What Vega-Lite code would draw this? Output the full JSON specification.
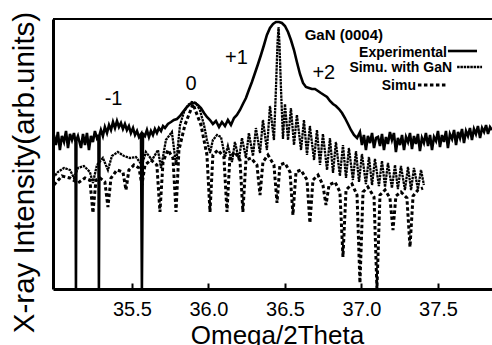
{
 "$schema": "https://vega.github.io/schema/vega-lite/v6.json",
 "width": 439, "height": 270,
 "autosize": {"type": "none"},
 "padding": {"left": 53, "top": 19, "right": 0, "bottom": 56},
 "background": "white",
 "config": {"view": {"stroke": null}, "font": "Liberation Sans"},
 "datasets": {
  "exp": [
   {"x":34.990,"y":154},{"x":35.003,"y":144},{"x":35.016,"y":157},{"x":35.029,"y":139},{"x":35.042,"y":153},{"x":35.056,"y":147},{"x":35.069,"y":158},{"x":35.082,"y":141},{"x":35.095,"y":155},{"x":35.108,"y":149},{"x":35.121,"y":156},{"x":35.131,"y":147},{"x":35.134,"y":0},{"x":35.137,"y":149},{"x":35.147,"y":153},{"x":35.167,"y":141},{"x":35.180,"y":155},{"x":35.193,"y":144},{"x":35.206,"y":156},{"x":35.219,"y":139},{"x":35.232,"y":153},{"x":35.245,"y":147},{"x":35.258,"y":158},{"x":35.271,"y":151},{"x":35.281,"y":154},{"x":35.284,"y":0},{"x":35.288,"y":154},{"x":35.297,"y":159},{"x":35.310,"y":153},{"x":35.323,"y":162},{"x":35.337,"y":156},{"x":35.350,"y":164},{"x":35.363,"y":159},{"x":35.376,"y":167},{"x":35.389,"y":161},{"x":35.402,"y":168},{"x":35.415,"y":162},{"x":35.428,"y":166},{"x":35.441,"y":160},{"x":35.454,"y":165},{"x":35.467,"y":159},{"x":35.480,"y":163},{"x":35.493,"y":156},{"x":35.507,"y":161},{"x":35.520,"y":154},{"x":35.533,"y":158},{"x":35.546,"y":152},{"x":35.559,"y":155},{"x":35.565,"y":0},{"x":35.572,"y":155},{"x":35.585,"y":153},{"x":35.598,"y":159},{"x":35.611,"y":152},{"x":35.624,"y":158},{"x":35.637,"y":154},{"x":35.650,"y":160},{"x":35.663,"y":156},{"x":35.676,"y":161},{"x":35.690,"y":158},{"x":35.703,"y":163},{"x":35.716,"y":161},{"x":35.735,"y":165},{"x":35.755,"y":167},{"x":35.774,"y":169},{"x":35.794,"y":170},{"x":35.814,"y":173},{"x":35.833,"y":177},{"x":35.853,"y":181},{"x":35.873,"y":184},{"x":35.892,"y":186},{"x":35.912,"y":186},{"x":35.931,"y":184},{"x":35.951,"y":181},{"x":35.971,"y":176},{"x":35.990,"y":172},{"x":36.010,"y":169},{"x":36.029,"y":165},{"x":36.049,"y":168},{"x":36.069,"y":162},{"x":36.088,"y":167},{"x":36.108,"y":163},{"x":36.127,"y":169},{"x":36.147,"y":164},{"x":36.167,"y":171},{"x":36.186,"y":174},{"x":36.206,"y":179},{"x":36.225,"y":185},{"x":36.245,"y":191},{"x":36.264,"y":199},{"x":36.284,"y":207},{"x":36.304,"y":216},{"x":36.324,"y":225},{"x":36.343,"y":234},{"x":36.363,"y":244},{"x":36.382,"y":254},{"x":36.402,"y":261},{"x":36.422,"y":265},{"x":36.441,"y":267},{"x":36.461,"y":267},{"x":36.480,"y":266},{"x":36.500,"y":263},{"x":36.520,"y":257},{"x":36.539,"y":249},{"x":36.559,"y":239},{"x":36.578,"y":227},{"x":36.598,"y":215},{"x":36.618,"y":206},{"x":36.637,"y":202},{"x":36.657,"y":201},{"x":36.676,"y":200},{"x":36.696,"y":200},{"x":36.716,"y":198},{"x":36.735,"y":196},{"x":36.755,"y":194},{"x":36.775,"y":192},{"x":36.794,"y":188},{"x":36.814,"y":185},{"x":36.833,"y":183},{"x":36.853,"y":180},{"x":36.873,"y":176},{"x":36.892,"y":171},{"x":36.912,"y":165},{"x":36.931,"y":159},{"x":36.951,"y":154},{"x":36.971,"y":151},{"x":36.990,"y":157},{"x":37.003,"y":144},{"x":37.016,"y":154},{"x":37.029,"y":139},{"x":37.042,"y":153},{"x":37.056,"y":146},{"x":37.069,"y":156},{"x":37.082,"y":141},{"x":37.095,"y":151},{"x":37.108,"y":152},{"x":37.121,"y":143},{"x":37.134,"y":155},{"x":37.147,"y":139},{"x":37.160,"y":152},{"x":37.173,"y":145},{"x":37.186,"y":157},{"x":37.199,"y":149},{"x":37.212,"y":156},{"x":37.225,"y":137},{"x":37.238,"y":151},{"x":37.252,"y":144},{"x":37.265,"y":154},{"x":37.278,"y":139},{"x":37.291,"y":152},{"x":37.304,"y":147},{"x":37.317,"y":156},{"x":37.330,"y":140},{"x":37.343,"y":153},{"x":37.356,"y":145},{"x":37.369,"y":155},{"x":37.382,"y":138},{"x":37.395,"y":151},{"x":37.408,"y":146},{"x":37.421,"y":156},{"x":37.435,"y":143},{"x":37.448,"y":154},{"x":37.461,"y":139},{"x":37.474,"y":152},{"x":37.487,"y":148},{"x":37.500,"y":158},{"x":37.513,"y":142},{"x":37.526,"y":154},{"x":37.539,"y":147},{"x":37.552,"y":158},{"x":37.565,"y":141},{"x":37.578,"y":155},{"x":37.592,"y":150},{"x":37.605,"y":159},{"x":37.618,"y":144},{"x":37.631,"y":157},{"x":37.644,"y":151},{"x":37.657,"y":160},{"x":37.670,"y":146},{"x":37.683,"y":158},{"x":37.696,"y":153},{"x":37.709,"y":161},{"x":37.722,"y":149},{"x":37.735,"y":160},{"x":37.748,"y":155},{"x":37.761,"y":163},{"x":37.775,"y":151},{"x":37.788,"y":161},{"x":37.801,"y":157},{"x":37.814,"y":164},{"x":37.827,"y":155},{"x":37.840,"y":162},{"x":37.853,"y":159},
   {"x":37.565,"y":238,"g":"leg"},{"x":37.755,"y":238,"g":"leg"}
  ],
  "gan": [
   {"x":34.984,"y":111},{"x":35.016,"y":117},{"x":35.056,"y":121},{"x":35.095,"y":119},{"x":35.121,"y":111},{"x":35.147,"y":121},{"x":35.186,"y":123},{"x":35.225,"y":117},{"x":35.245,"y":106},{"x":35.271,"y":124},{"x":35.310,"y":131},{"x":35.343,"y":119},{"x":35.369,"y":133},{"x":35.408,"y":137},{"x":35.448,"y":133},{"x":35.487,"y":131},{"x":35.526,"y":132},{"x":35.565,"y":124},{"x":35.591,"y":137},{"x":35.631,"y":129},{"x":35.670,"y":139},{"x":35.690,"y":121},{"x":35.722,"y":149},{"x":35.761,"y":157},{"x":35.788,"y":124},{"x":35.814,"y":164},{"x":35.840,"y":177},{"x":35.866,"y":184},{"x":35.892,"y":187},{"x":35.918,"y":186},{"x":35.944,"y":179},{"x":35.971,"y":164},{"x":35.990,"y":149},{"x":36.010,"y":136},{"x":36.029,"y":149},{"x":36.056,"y":154},{"x":36.082,"y":152},{"x":36.108,"y":132},{"x":36.127,"y":143},{"x":36.154,"y":127},{"x":36.173,"y":147},{"x":36.199,"y":129},{"x":36.219,"y":151},{"x":36.245,"y":131},{"x":36.264,"y":156},{"x":36.291,"y":133},{"x":36.310,"y":161},{"x":36.337,"y":136},{"x":36.356,"y":169},{"x":36.382,"y":139},{"x":36.402,"y":183},{"x":36.428,"y":149},{"x":36.441,"y":200},{"x":36.451,"y":245},{"x":36.458,"y":262},{"x":36.464,"y":245},{"x":36.474,"y":200},{"x":36.487,"y":150},{"x":36.500,"y":185},{"x":36.520,"y":149},{"x":36.539,"y":181},{"x":36.559,"y":144},{"x":36.578,"y":174},{"x":36.605,"y":139},{"x":36.624,"y":169},{"x":36.644,"y":134},{"x":36.663,"y":163},{"x":36.690,"y":129},{"x":36.709,"y":159},{"x":36.729,"y":124},{"x":36.748,"y":155},{"x":36.775,"y":119},{"x":36.794,"y":151},{"x":36.814,"y":116},{"x":36.833,"y":147},{"x":36.859,"y":113},{"x":36.879,"y":144},{"x":36.899,"y":111},{"x":36.918,"y":141},{"x":36.944,"y":109},{"x":36.964,"y":138},{"x":36.984,"y":107},{"x":37.003,"y":135},{"x":37.029,"y":105},{"x":37.049,"y":132},{"x":37.069,"y":104},{"x":37.088,"y":130},{"x":37.114,"y":103},{"x":37.134,"y":128},{"x":37.154,"y":102},{"x":37.173,"y":126},{"x":37.199,"y":101},{"x":37.219,"y":124},{"x":37.238,"y":100},{"x":37.258,"y":123},{"x":37.284,"y":99},{"x":37.304,"y":122},{"x":37.324,"y":99},{"x":37.343,"y":121},{"x":37.369,"y":100},{"x":37.389,"y":119},{"x":37.408,"y":104},
   {"x":37.625,"y":222,"g":"leg"},{"x":37.788,"y":222,"g":"leg"}
  ],
  "sim": [
   {"x":34.990,"y":104},{"x":35.042,"y":113},{"x":35.095,"y":111},{"x":35.147,"y":106},{"x":35.193,"y":111},{"x":35.225,"y":109},{"x":35.245,"y":76},{"x":35.265,"y":109},{"x":35.291,"y":111},{"x":35.323,"y":107},{"x":35.343,"y":82},{"x":35.363,"y":111},{"x":35.402,"y":119},{"x":35.441,"y":117},{"x":35.461,"y":99},{"x":35.480,"y":119},{"x":35.513,"y":124},{"x":35.546,"y":121},{"x":35.565,"y":104},{"x":35.585,"y":124},{"x":35.624,"y":129},{"x":35.663,"y":124},{"x":35.683,"y":77},{"x":35.703,"y":127},{"x":35.735,"y":139},{"x":35.768,"y":131},{"x":35.788,"y":77},{"x":35.807,"y":139},{"x":35.846,"y":164},{"x":35.899,"y":185},{"x":35.951,"y":164},{"x":35.990,"y":134},{"x":36.010,"y":77},{"x":36.029,"y":134},{"x":36.062,"y":139},{"x":36.101,"y":132},{"x":36.121,"y":77},{"x":36.140,"y":132},{"x":36.173,"y":137},{"x":36.206,"y":129},{"x":36.225,"y":77},{"x":36.245,"y":129},{"x":36.278,"y":131},{"x":36.317,"y":124},{"x":36.337,"y":94},{"x":36.356,"y":127},{"x":36.389,"y":134},{"x":36.428,"y":124},{"x":36.448,"y":86},{"x":36.467,"y":124},{"x":36.500,"y":126},{"x":36.533,"y":117},{"x":36.552,"y":74},{"x":36.572,"y":117},{"x":36.605,"y":119},{"x":36.644,"y":109},{"x":36.663,"y":66},{"x":36.683,"y":109},{"x":36.716,"y":114},{"x":36.748,"y":104},{"x":36.768,"y":84},{"x":36.788,"y":104},{"x":36.827,"y":107},{"x":36.859,"y":97},{"x":36.879,"y":32},{"x":36.899,"y":99},{"x":36.938,"y":105},{"x":36.971,"y":94},{"x":36.990,"y":6},{"x":37.010,"y":97},{"x":37.042,"y":102},{"x":37.082,"y":92},{"x":37.101,"y":0},{"x":37.121,"y":94},{"x":37.154,"y":99},{"x":37.186,"y":91},{"x":37.206,"y":59},{"x":37.225,"y":93},{"x":37.258,"y":97},{"x":37.297,"y":91},{"x":37.317,"y":42},{"x":37.337,"y":93},{"x":37.369,"y":99},{"x":37.402,"y":101},
   {"x":37.369,"y":204,"g":"leg"},{"x":37.560,"y":204,"g":"leg"}
  ],
  "peaks": [
   {"t":"-1","x":35.38,"y":184},{"t":"0","x":35.886,"y":199},{"t":"+1","x":36.183,"y":225},{"t":"+2","x":36.754,"y":210}
  ],
  "legend": [
   {"t":"Experimental","x":37.559,"y":232},{"t":"Simu. with GaN","x":37.592,"y":217},{"t":"Simu","x":37.356,"y":199}
  ],
  "head": [
   {"t":"GaN (0004)","x":37.141,"y":249}
  ],
  "frame": [{"y":270}]
 },
 "encoding": {
  "x": {"field":"x","type":"quantitative","scale":{"domain":[34.984,37.853],"nice":false,"zero":false},
   "axis":{"values":[35.5,36,36.5,37,37.5],"format":".1f","grid":false,"labelFontSize":20,"labelColor":"black","labelFont":"Liberation Sans","tickSize":-6,"tickWidth":2,"tickColor":"black","domainWidth":3,"domainColor":"black","labelPadding":16,"title":"Omega/2Theta","titleFont":"Liberation Sans","titleFontSize":26,"titleFontWeight":"normal","titleColor":"black","titleX":224,"titleY":54,"titleBaseline":"alphabetic","titleAlign":"center"}},
  "y": {"field":"y","type":"quantitative","scale":{"domain":[0,270],"nice":false},
   "axis":{"grid":false,"ticks":false,"labels":false,"domainWidth":3,"domainColor":"black","title":"X-ray Intensity(arb.units)","titleFont":"Liberation Sans","titleFontSize":29.5,"titleFontWeight":"normal","titleColor":"black","titleX":-20,"titleY":153,"titleAngle":-90,"titleBaseline":"alphabetic","titleAlign":"center"}}
 },
 "layer": [
  {"data":{"name":"frame"},"mark":{"type":"rule","color":"black","strokeWidth":2},"encoding":{"x":{"value":0},"x2":{"value":439},"y":{"field":"y","type":"quantitative"}}},
  {"data":{"name":"sim"},"mark":{"type":"line","color":"black","strokeWidth":3,"strokeDash":[3.5,2.5],"clip":true},"encoding":{"detail":{"field":"g"}}},
  {"data":{"name":"gan"},"mark":{"type":"line","color":"black","strokeWidth":2.3,"strokeDash":[2.5,0.8],"clip":true},"encoding":{"detail":{"field":"g"}}},
  {"data":{"name":"exp"},"mark":{"type":"line","color":"black","strokeWidth":2.6,"clip":true},"encoding":{"detail":{"field":"g"}}},
  {"data":{"name":"peaks"},"mark":{"type":"text","font":"Liberation Sans","fontSize":20,"align":"center","baseline":"alphabetic","color":"black"},"encoding":{"text":{"field":"t"}}},
  {"data":{"name":"legend"},"mark":{"type":"text","font":"Liberation Sans","fontSize":14,"fontWeight":"bold","align":"right","baseline":"alphabetic","color":"black"},"encoding":{"text":{"field":"t"}}},
  {"data":{"name":"head"},"mark":{"type":"text","font":"Liberation Sans","fontSize":15,"fontWeight":"bold","align":"right","baseline":"alphabetic","color":"black"},"encoding":{"text":{"field":"t"}}}
 ]
}
